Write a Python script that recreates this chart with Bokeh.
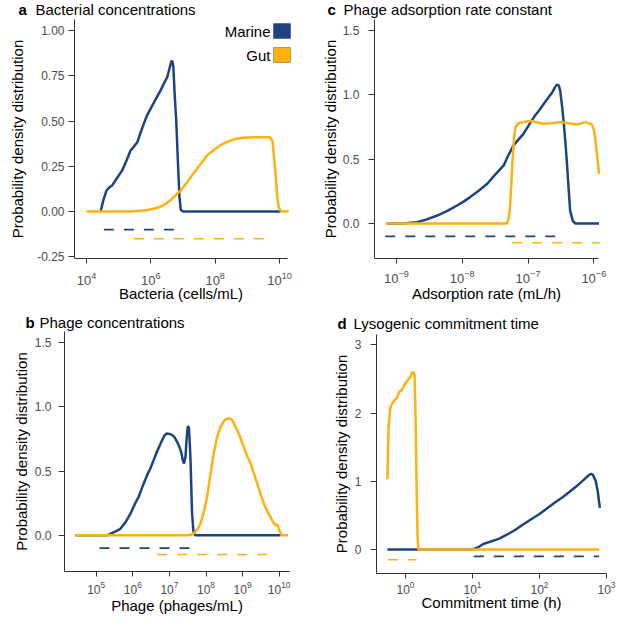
import numpy as np
from bokeh.plotting import figure
from bokeh.models import Range1d, FixedTicker, PrintfTickFormatter, Label, BoxAnnotation
from bokeh.layouts import column, row
from bokeh.embed import file_html
from bokeh.resources import INLINE

BLUE = "#1D4381"
ORANGE = "#FFB10F"
FONT = "Liberation Sans"

# ---------------- data (x as log10 exponents, y density) ----------------
# a: Bacterial concentrations
a_marine_lx = [4.44, 4.52, 4.62, 4.72, 4.80, 4.95, 5.11, 5.25, 5.37, 5.48, 5.58, 5.68, 5.78, 5.88, 5.99,
               6.15, 6.30, 6.40, 6.51, 6.58, 6.63, 6.66, 6.70, 6.74, 6.79, 6.84, 6.89, 6.93, 7.00, 10.03]
a_marine_y = [0.0, 0.06, 0.116, 0.135, 0.144, 0.185, 0.227, 0.285, 0.337, 0.36, 0.383, 0.435, 0.484, 0.53, 0.567,
              0.62, 0.668, 0.705, 0.742, 0.79, 0.825, 0.834, 0.80, 0.65, 0.50, 0.28, 0.08, 0.01, 0.0, 0.0]
a_gut_lx = [4.0, 5.4, 5.9, 6.2, 6.4, 6.6, 6.82, 6.92, 7.13, 7.3, 7.55, 7.75, 7.96, 8.2, 8.38, 8.6, 8.89,
            9.2, 9.5, 9.7, 9.78, 9.83, 9.88, 9.93, 9.98, 10.05, 10.29]
a_gut_y = [0.0, 0.0, 0.008, 0.02, 0.035, 0.06, 0.098, 0.115, 0.162, 0.205, 0.263, 0.31, 0.34, 0.37, 0.385, 0.40, 0.407,
           0.41, 0.41, 0.41, 0.39, 0.30, 0.20, 0.079, 0.02, 0.0, 0.0]
a_marine_range = [4.54, 6.77]
a_gut_range = [5.47, 9.62]

# b: Phage concentrations
b_marine_lx = [4.43, 5.3, 5.39, 5.5, 5.66, 5.8, 5.94, 6.05, 6.16, 6.28, 6.39, 6.48, 6.57, 6.66, 6.76, 6.85, 6.92,
               7.0, 7.08, 7.15, 7.21, 7.27, 7.32, 7.37, 7.40, 7.44, 7.47, 7.50, 7.53, 7.56, 7.58, 7.60, 7.62,
               7.65, 7.67, 7.71, 10.04]
b_marine_y = [0.0, 0.0, 0.01, 0.025, 0.05, 0.10, 0.17, 0.24, 0.30, 0.39, 0.468, 0.52, 0.585, 0.65, 0.715, 0.77, 0.793,
              0.79, 0.78, 0.76, 0.728, 0.69, 0.65, 0.58, 0.559, 0.611, 0.75, 0.845, 0.845, 0.70, 0.56, 0.35, 0.169,
              0.05, 0.013, 0.0, 0.0]
b_gut_lx = [4.43, 7.5, 7.62, 7.72, 7.80, 7.85, 7.94, 8.03, 8.12, 8.21, 8.30, 8.40, 8.49, 8.58, 8.65, 8.72, 8.78,
            8.85, 8.94, 9.03, 9.12, 9.22, 9.31, 9.40, 9.49, 9.58, 9.67, 9.76, 9.83, 9.90, 9.94, 9.97, 10.0,
            10.04, 10.09, 10.24]
b_gut_y = [0.0, 0.0, 0.005, 0.03, 0.06, 0.09, 0.18, 0.30, 0.47, 0.637, 0.76, 0.845, 0.89, 0.91, 0.91, 0.897, 0.86,
           0.82, 0.76, 0.69, 0.62, 0.559, 0.48, 0.403, 0.32, 0.247, 0.19, 0.143, 0.105, 0.078, 0.085, 0.07, 0.04,
           0.013, 0.0, 0.0]
b_marine_range = [5.09, 7.55]
b_gut_range = [6.67, 9.72]

# c: Phage adsorption rate constant
c_marine_lx = [-9.15, -8.9, -8.69, -8.55, -8.38, -8.22, -8.08, -7.98, -7.88, -7.75, -7.62, -7.5, -7.37, -7.30,
               -7.22, -7.15, -7.07, -6.98, -6.91, -6.83, -6.76, -6.69, -6.63, -6.59, -6.56, -6.53, -6.51, -6.48,
               -6.46, -6.43, -6.41, -6.38, -6.36, -6.32, -6.28, -5.92]
c_marine_y = [0.0, 0.0, 0.01, 0.03, 0.062, 0.10, 0.14, 0.17, 0.205, 0.255, 0.309, 0.38, 0.451, 0.53,
              0.607, 0.65, 0.697, 0.77, 0.827, 0.88, 0.931, 0.98, 1.021, 1.06, 1.081, 1.07, 1.03, 0.90,
              0.80, 0.62, 0.48, 0.25, 0.10, 0.02, 0.0, 0.0]
c_gut_lx = [-9.15, -7.32, -7.29, -7.27, -7.25, -7.23, -7.21, -7.19, -7.14, -7.05, -6.96, -6.86, -6.76, -6.64,
            -6.51, -6.38, -6.25, -6.18, -6.13, -6.08, -6.03, -6.0, -5.98, -5.95, -5.92]
c_gut_y = [0.0, 0.0, 0.05, 0.153, 0.35, 0.542, 0.68, 0.749, 0.78, 0.79, 0.796, 0.785, 0.775, 0.78,
           0.788, 0.78, 0.77, 0.78, 0.788, 0.78, 0.77, 0.73, 0.671, 0.53, 0.386]
c_marine_range = [-9.17, -6.53]
c_gut_range = [-7.24, -5.91]

# d: Lysogenic commitment time
d_marine_lx = [-0.27, 1.0, 1.08, 1.16, 1.28, 1.40, 1.52, 1.64, 1.76, 1.87, 2.0, 2.11, 2.23, 2.35, 2.44,
               2.58, 2.66, 2.73, 2.77, 2.80, 2.84, 2.87, 2.90]
d_marine_y = [0.0, 0.0, 0.03, 0.08, 0.12, 0.16, 0.22, 0.29, 0.37, 0.44, 0.52, 0.60, 0.69, 0.77, 0.84,
              0.95, 1.02, 1.085, 1.11, 1.09, 1.00, 0.85, 0.61]
d_gut_lx = [-0.27, -0.26, -0.25, -0.23, -0.21, -0.17, -0.13, -0.095, -0.06, -0.024, 0.01, 0.047, 0.07, 0.095,
            0.12, 0.135, 0.145, 0.152, 0.162, 0.171, 0.18, 0.19, 0.2, 2.89]
d_gut_y = [1.03, 1.5, 1.82, 2.05, 2.12, 2.18, 2.22, 2.31, 2.33, 2.40, 2.45, 2.50, 2.52, 2.59,
           2.60, 2.55, 2.2, 1.82, 1.2, 0.6, 0.2, 0.01, 0.0, 0.0]
d_marine_range = [1.02, 2.89]
d_gut_range = [-0.26, 0.166]

range_y_marine = -0.10
range_y_gut = -0.15
legend_names = ["Marine", "Gut"]


def panel(cfg, marine, gut, mrange, grange):
    W, H = cfg["size"]
    (px1, lx1), (px2, lx2) = cfg["xanchor"]
    (py1, v1), (py2, v2) = cfg["yanchor"]
    lx_at = lambda px: lx1 + (px - px1) * (lx2 - lx1) / (px2 - px1)
    v_at = lambda py: v1 + (py - py1) * (v2 - v1) / (py2 - py1)
    axl, axr, axt, axb = cfg["axis_box"]

    p = figure(width=W, height=H, x_axis_type="log", title=None,
               output_backend="svg", toolbar_location=None, min_border=0,
               x_range=Range1d(10 ** lx_at(0), 10 ** lx_at(W)),
               y_range=Range1d(v_at(H), v_at(0)))
    p.xgrid.visible = False
    p.ygrid.visible = False
    p.outline_line_color = None
    p.background_fill_color = "white"
    p.border_fill_color = "white"

    p.xaxis.ticker = FixedTicker(ticks=[10.0 ** e for e in cfg["xticks"]], minor_ticks=[])
    p.yaxis.ticker = FixedTicker(ticks=cfg["yticks"], minor_ticks=[])
    p.yaxis.formatter = PrintfTickFormatter(format=cfg["yfmt"])
    p.yaxis.fixed_location = 10 ** lx_at(axl)
    p.xaxis.fixed_location = v_at(axb)
    p.yaxis.bounds = (v_at(axb), v_at(axt))
    p.xaxis.bounds = (10 ** lx_at(axl), 10 ** lx_at(axr))
    for ax in (p.xaxis, p.yaxis):
        ax.axis_line_color = "#333333"
        ax.axis_line_width = 1
        ax.major_tick_line_color = "#333333"
        ax.major_tick_in = 0
        ax.minor_tick_out = 0
        ax.minor_tick_in = 0
        ax.major_label_text_color = "#4D4D4D"
        ax.major_label_text_font = FONT
        ax.axis_label_text_font = FONT
        ax.axis_label_text_font_style = "normal"
        ax.axis_label_text_font_size = "15px"
        ax.axis_label_text_color = "black"
    p.yaxis.major_tick_out = cfg["ytick_len"]
    p.xaxis.major_tick_out = 5
    p.yaxis.major_label_text_font_size = "12px"
    p.xaxis.major_label_text_font_size = cfg.get("xtick_size", "13px")
    p.yaxis.major_label_standoff = cfg["ylab_pad"]
    p.xaxis.major_label_standoff = cfg["xlab_pad"]
    p.yaxis.axis_label_standoff = cfg["ytitle_pad"]
    p.xaxis.axis_label_standoff = cfg["xtitle_pad"]
    p.xaxis.axis_label = cfg["xlabel"]
    p.yaxis.axis_label = "Probability density distribution"

    mx, my = marine
    gx, gy = gut
    p.line(10.0 ** np.array(mx), my, line_color=BLUE, line_width=2.5)
    p.line(10.0 ** np.array(gx), gy, line_color=ORANGE, line_width=2.5)
    p.line(10.0 ** np.array(mrange), [range_y_marine] * 2, line_color=BLUE, line_width=1.8,
           line_dash="10 10")
    p.line(10.0 ** np.array(grange), [range_y_gut] * 2, line_color=ORANGE, line_width=1.5,
           line_dash="10 10")

    lx, tx, mid = cfg["title_pos"]
    p.add_layout(Label(x=lx, y=H - mid, x_units="screen", y_units="screen", text=cfg["letter"],
                       text_font=FONT, text_font_style="bold", text_font_size="15px",
                       text_color="black", text_baseline="middle"))
    p.add_layout(Label(x=tx, y=H - mid, x_units="screen", y_units="screen", text=cfg["title"],
                       text_font=FONT, text_font_size="15px", text_color="black",
                       text_baseline="middle"))
    return p


cfg_a = dict(size=(310, 310), xanchor=((86, 4), (279, 10)), yanchor=((211, 0.0), (30, 1.0)),
             axis_box=(74, 287, 19, 258), xticks=[4, 6, 8, 10], yticks=[-0.25, 0.0, 0.25, 0.5, 0.75, 1.0],
             yfmt="%.2f", ytick_len=6, ylab_pad=4, xlab_pad=8, ytitle_pad=8, xtitle_pad=-3,
             letter="a", title="Bacterial concentrations", title_pos=(18, 35, 8.5),
             xlabel="Bacteria (cells/mL)")
cfg_c = dict(size=(307, 310), xanchor=((86, -9), (283.3, -6)), yanchor=((223, 0.0), (30, 1.5)),
             axis_box=(64, 288, 19, 258), xticks=[-9, -8, -7, -6], yticks=[0.0, 0.5, 1.0, 1.5],
             yfmt="%.1f", ytick_len=6, ylab_pad=9, xlab_pad=6, ytitle_pad=1, xtitle_pad=-1,
             letter="c", title="Phage adsorption rate constant", title_pos=(17, 33, 8.5),
             xlabel="Adsorption rate (mL/h)")
cfg_b = dict(size=(310, 304), xanchor=((95.7, 5), (278.7, 10)), yanchor=((224.7, 0.0), (32.3, 1.5)),
             axis_box=(64, 288.7, 21, 261), xticks=[5, 6, 7, 8, 9, 10], yticks=[0.0, 0.5, 1.0, 1.5],
             yfmt="%.1f", ytick_len=6, ylab_pad=7, xlab_pad=4, ytitle_pad=2, xtitle_pad=0,
             letter="b", title="Phage concentrations", title_pos=(25, 39, 11.5),
             xlabel="Phage (phages/mL)", xtick_size="12px")
cfg_d = dict(size=(307, 304), xanchor=((95, 0), (296, 3)), yanchor=((239, 0.0), (34.3, 3.0)),
             axis_box=(66, 296, 24, 263), xticks=[0, 1, 2, 3], yticks=[0, 1, 2, 3],
             yfmt="%.0f", ytick_len=6, ylab_pad=9, xlab_pad=2, ytitle_pad=2, xtitle_pad=-3,
             letter="d", title="Lysogenic commitment time", title_pos=(27, 43, 12.5),
             xlabel="Commitment time (h)", xtick_size="12px")

pa = panel(cfg_a, (a_marine_lx, a_marine_y), (a_gut_lx, a_gut_y), a_marine_range, a_gut_range)
pc = panel(cfg_c, (c_marine_lx, c_marine_y), (c_gut_lx, c_gut_y), c_marine_range, c_gut_range)
pb = panel(cfg_b, (b_marine_lx, b_marine_y), (b_gut_lx, b_gut_y), b_marine_range, b_gut_range)
pd_ = panel(cfg_d, (d_marine_lx, d_marine_y), (d_gut_lx, d_gut_y), d_marine_range, d_gut_range)

# legend for panel a (screen units, from the frame's bottom-left)
Ha = cfg_a["size"][1]
for i, (name, col) in enumerate(zip(legend_names, [BLUE, ORANGE])):
    top = 23 + 24 * i
    pa.add_layout(BoxAnnotation(left=273, right=290, top=Ha - top, bottom=Ha - top - 15,
                                left_units="screen", right_units="screen",
                                top_units="screen", bottom_units="screen",
                                fill_color=col, fill_alpha=1.0, line_color="black", line_width=1,
                                level="overlay"))
    pa.add_layout(Label(x=270, y=Ha - top - 7.5, x_units="screen", y_units="screen", text=name,
                        text_font=FONT, text_font_size="15px", text_color="black",
                        text_align="right", text_baseline="middle"))

layout = column(row(pa, pc), row(pb, pd_))
open("out.html", "w").write(file_html(layout, INLINE))
